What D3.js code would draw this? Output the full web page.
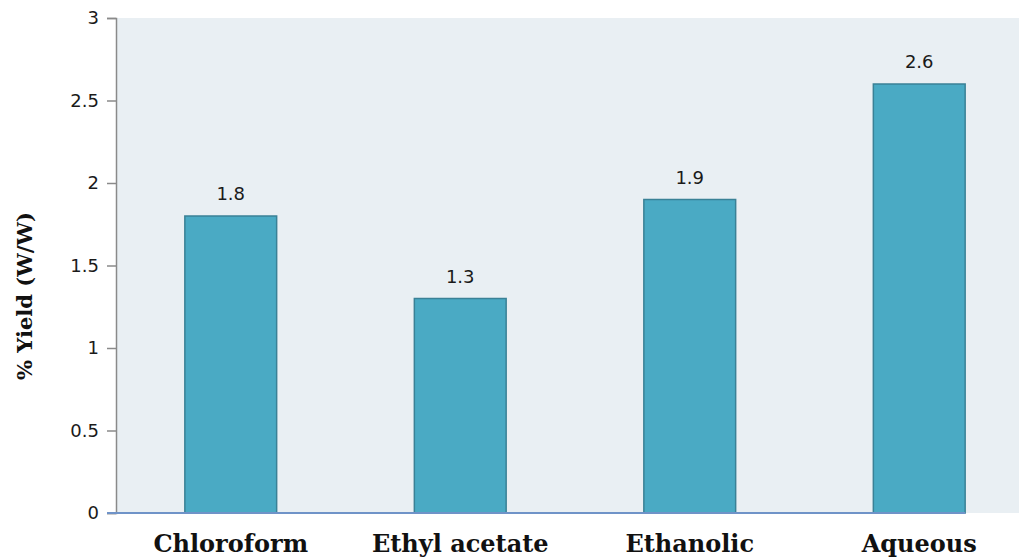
<!DOCTYPE html>
<html>
<head>
<meta charset="utf-8">
<script src="https://cdn.jsdelivr.net/npm/d3@7"></script>
<style>
  html, body { margin: 0; padding: 0; background: #ffffff; }
  svg { display: block; }
</style>
</head>
<body>
<svg id="chart" width="1019" height="557"></svg>
<script>
// Extract yield by solvent
const categories = ["Chloroform", "Ethyl acetate", "Ethanolic", "Aqueous"];
const yieldValues = [1.8, 1.3, 1.9, 2.6];
const yTicks = [0, 0.5, 1, 1.5, 2, 2.5, 3];
const yTitle = "% Yield (W/W)";

const svg = d3.select("#chart");
const W = 1019, H = 557;

const plot = { left: 116, top: 18, bottom: 513, right: 1034 };

const x = d3.scaleBand()
  .domain(categories)
  .range([plot.left, plot.right])
  .paddingInner(0.6)
  .paddingOuter(0.3);

const y = d3.scaleLinear()
  .domain([0, 3])
  .range([plot.bottom, plot.top]);

// plot area background
svg.append("rect")
  .attr("x", plot.left)
  .attr("y", plot.top)
  .attr("width", W - plot.left)
  .attr("height", plot.bottom - plot.top)
  .attr("fill", "#e9eff3");

// bars
svg.append("g").selectAll("rect")
  .data(categories.map((c, i) => ({ c, v: yieldValues[i] })))
  .join("rect")
  .attr("x", d => x(d.c))
  .attr("y", d => y(d.v))
  .attr("width", x.bandwidth())
  .attr("height", d => y(0) - y(d.v))
  .attr("fill", "#4aaac4")
  .attr("stroke", "#3a8196")
  .attr("stroke-width", 1.5);

// value labels
svg.append("g").selectAll("text")
  .data(categories.map((c, i) => ({ c, v: yieldValues[i] })))
  .join("text")
  .attr("x", d => x(d.c) + x.bandwidth() / 2)
  .attr("y", d => y(d.v) - 16)
  .attr("text-anchor", "middle")
  .attr("font-family", "DejaVu Sans, Verdana, sans-serif")
  .attr("font-size", 18)
  .attr("fill", "#1a1a1a")
  .text(d => d.v);

// y axis
const yAxis = d3.axisLeft(y)
  .tickValues(yTicks)
  .tickSize(9)
  .tickPadding(8)
  .tickFormat(d3.format("~g"));

const gy = svg.append("g")
  .attr("transform", `translate(${plot.left},0)`)
  .call(yAxis);
gy.select(".domain").attr("stroke", "#8a8a8a").attr("stroke-width", 1.5);
gy.selectAll(".tick line").attr("stroke", "#8a8a8a").attr("stroke-width", 1.5);
gy.selectAll(".tick text")
  .attr("font-family", "DejaVu Sans, Verdana, sans-serif")
  .attr("font-size", 18)
  .attr("fill", "#1a1a1a");

// baseline along the category axis
svg.append("line")
  .attr("x1", plot.left - 9)
  .attr("x2", x(categories[categories.length - 1]) + x.bandwidth())
  .attr("y1", y(0))
  .attr("y2", y(0))
  .attr("stroke", "#6f93c8")
  .attr("stroke-width", 2);

// category labels
svg.append("g").selectAll("text")
  .data(categories)
  .join("text")
  .attr("x", d => x(d) + x.bandwidth() / 2)
  .attr("y", 552)
  .attr("text-anchor", "middle")
  .attr("font-family", "DejaVu Serif, Liberation Serif, serif")
  .attr("font-weight", "bold")
  .attr("font-size", 24)
  .attr("fill", "#111111")
  .text(d => d);

// y axis title
svg.append("text")
  .attr("transform", "translate(32,296) rotate(-90)")
  .attr("text-anchor", "middle")
  .attr("font-family", "DejaVu Serif, Liberation Serif, serif")
  .attr("font-weight", "bold")
  .attr("font-size", 21)
  .attr("fill", "#111111")
  .text(yTitle);
</script>
</body>
</html>
